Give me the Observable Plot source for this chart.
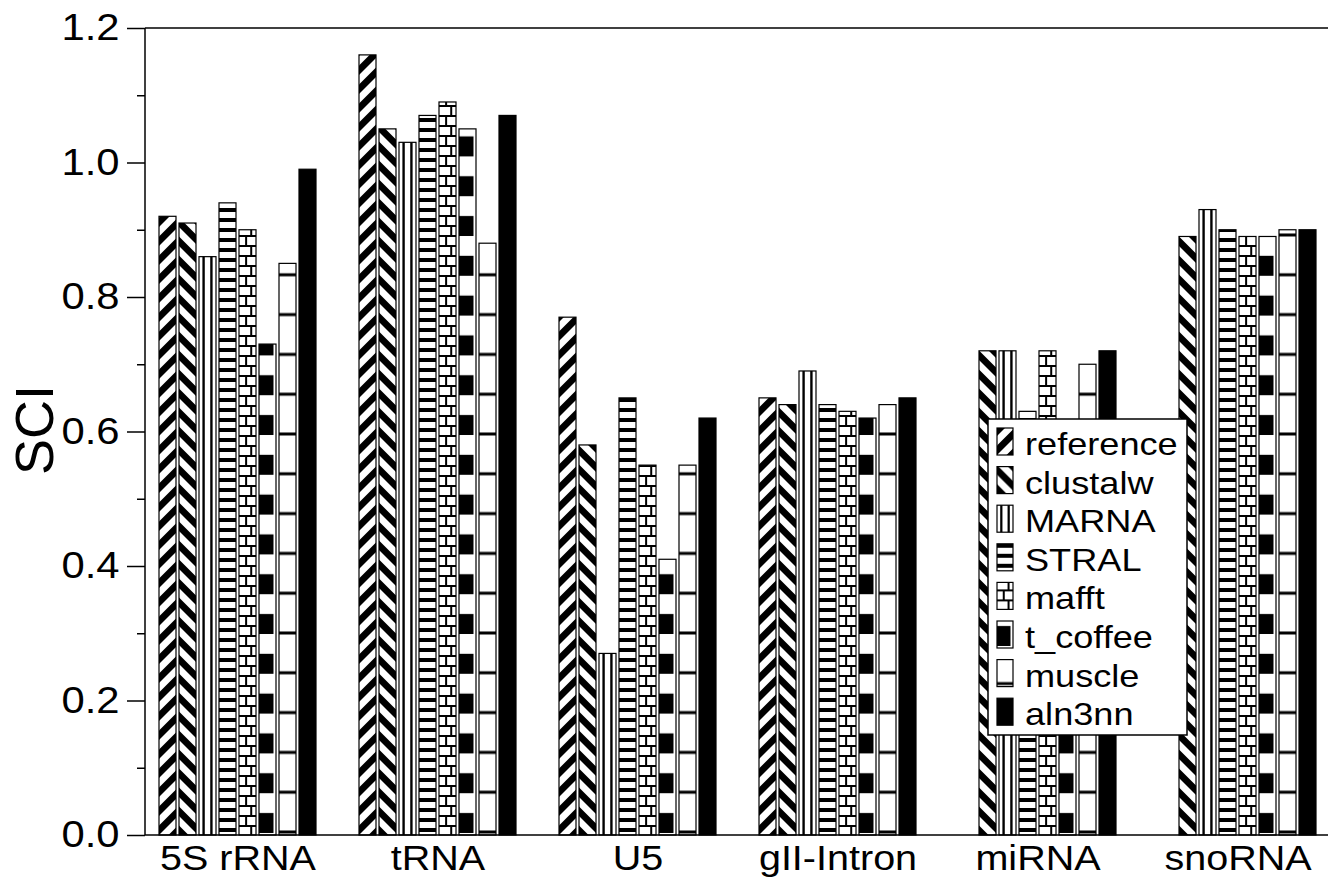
<!DOCTYPE html>
<html>
<head>
<meta charset="utf-8">
<script src="https://cdn.jsdelivr.net/npm/d3@7"></script>
<script src="https://cdn.jsdelivr.net/npm/@observablehq/plot@0.6"></script>
<style>
html, body { margin: 0; padding: 0; background: #fff; overflow: hidden; }
#chart { position: relative; width: 1328px; height: 878px; }
svg text { font-family: "Liberation Sans", Arial, Helvetica, sans-serif; }
</style>
</head>
<body>
<div id="chart"></div>
<script>
// ---- data ----
const categories = ["5S rRNA", "tRNA", "U5", "gII-Intron", "miRNA", "snoRNA"];
const methods = ["reference", "clustalw", "MARNA", "STRAL", "mafft", "t_coffee", "muscle", "aln3nn"];
const reference = [0.92, 1.16, 0.77, 0.65, null, null];
const clustalw  = [0.91, 1.05, 0.58, 0.64, 0.72, 0.89];
const marna     = [0.86, 1.03, 0.27, 0.69, 0.72, 0.93];
const stral     = [0.94, 1.07, 0.65, 0.64, 0.63, 0.90];
const mafft     = [0.90, 1.09, 0.55, 0.63, 0.72, 0.89];
const tcoffee   = [0.73, 1.05, 0.41, 0.62, 0.60, 0.89];
const muscle    = [0.85, 0.88, 0.55, 0.64, 0.70, 0.90];
const aln3nn    = [0.99, 1.07, 0.62, 0.65, 0.72, 0.90];
const yTicks = [0, 0.2, 0.4, 0.6, 0.8, 1.0, 1.2];
const yMinorTicks = [0.1, 0.3, 0.5, 0.7, 0.9, 1.1];
const yLabel = "SCI";

const series = [reference, clustalw, marna, stral, mafft, tcoffee, muscle, aln3nn];
const rows = categories.flatMap((c, i) =>
  methods.map((m, j) => ({category: c, method: m, sci: series[j][i]}))
);
const patUrls = methods.map((m, j) => `url(#pat${j})`);

const FONT = "Liberation Sans, Arial, Helvetica, sans-serif";
const STRETCH = 1.13;

const plot = Plot.plot({
  width: 1328,
  height: 878,
  marginLeft: 145,
  marginRight: -8,
  marginTop: 28,
  marginBottom: 43,
  style: {fontFamily: FONT, background: "white", color: "black"},
  fx: {domain: categories, paddingInner: 0.0746, paddingOuter: 0, align: 0, label: null},
  x: {domain: methods, paddingInner: 0.15, paddingOuter: 0.638, axis: null},
  y: {domain: [0, 1.2]},
  color: {domain: methods, range: patUrls},
  marks: [
    Plot.barY(rows, {fx: "category", x: "method", y: "sci", fill: "method", stroke: "black", strokeWidth: 1.2}),
    Plot.axisY({ticks: yTicks, tickSize: 18, tickPadding: 8, tickFormat: d3.format(".1f"), fontSize: 37, label: null, strokeWidth: 1.5}),
    Plot.axisY({ticks: yMinorTicks, tickSize: 8, tickFormat: () => "", label: null, strokeWidth: 1.5}),
    Plot.axisFx({anchor: "bottom", tickSize: 0, tickPadding: 10, fontSize: 35, label: null})
  ]
});

document.getElementById("chart").appendChild(plot);

// ---- styling: patterns, frame lines, legend ----
const svg = d3.select(plot);
const yS = plot.scale("y");
const fxS = plot.scale("fx");
const yBase = yS.apply(0);
const yTop = yS.apply(1.2);
const xLeft = fxS.apply(categories[0]);
const defs = svg.insert("defs", ":first-child");

function stretch(t, s) {
  const x = +(t.getAttribute("x") || 0);
  const tr = t.getAttribute("transform") || "";
  t.setAttribute("x", 0);
  t.setAttribute("transform", `${tr} translate(${x},0) scale(${s},1)`);
}
svg.selectAll("text").each(function() { stretch(this, STRETCH); });

let patCount = 0;
function makePattern(j, x0, yb, w) {
  const id = `bp${patCount++}`;
  const p = defs.append("pattern").attr("id", id)
    .attr("patternUnits", "userSpaceOnUse").attr("x", x0).attr("y", yb);
  const rect = (x, y, rw, rh, f) => p.append("rect").attr("x", x).attr("y", y)
    .attr("width", rw).attr("height", rh).attr("fill", f);
  if (j === 0 || j === 1) {
    const P = 19;
    p.attr("width", P).attr("height", P);
    rect(0, 0, P, P, "white");
    if (j === 0) {
      p.append("polygon").attr("points", `${P/2},0 ${P},0 0,${P} 0,${P/2}`).attr("fill", "black");
      p.append("polygon").attr("points", `${P},${P/2} ${P},${P} ${P/2},${P}`).attr("fill", "black");
    } else {
      p.append("polygon").attr("points", `0,0 ${P/2},0 ${P},${P/2} ${P},${P}`).attr("fill", "black");
      p.append("polygon").attr("points", `0,${P/2} 0,${P} ${P/2},${P}`).attr("fill", "black");
    }
  } else if (j === 2) {
    p.attr("width", w).attr("height", 10);
    rect(0, 0, w, 10, "white");
    rect(w * 0.2, 0, w * 0.14, 10, "black");
    rect(w * 0.66, 0, w * 0.14, 10, "black");
  } else if (j === 3) {
    p.attr("width", w).attr("height", 10);
    rect(0, 0, w, 10, "white");
    rect(0, 3, w, 4, "black");
  } else if (j === 4) {
    p.attr("width", w).attr("height", 20);
    rect(0, 0, w, 20, "white");
    rect(0, 0, w, 2, "black");
    rect(0, 10, w, 2, "black");
    rect(w * 0.36, 2, 2, 8, "black");
    rect(w * 0.66, 12, 2, 8, "black");
  } else if (j === 5) {
    const P = 39.8;
    p.attr("width", w).attr("height", P);
    rect(0, 0, w, P, "white");
    rect(0, P - 22, w - 2.5, 20, "black");
  } else if (j === 6) {
    const P = 39.8;
    p.attr("width", w).attr("height", P);
    rect(0, 0, w, P, "white");
    rect(0, P - 4.5, w, 3, "black");
  } else {
    p.attr("width", w).attr("height", 10);
    rect(0, 0, w, 10, "black");
  }
  return `url(#${id})`;
}

svg.selectAll('g[aria-label="bar"] rect').each(function() {
  const f = this.getAttribute("fill") || "";
  const m = f.match(/pat(\d+)/);
  if (!m) return;
  const j = +m[1];
  const x0 = +this.getAttribute("x");
  const w = +this.getAttribute("width");
  if (j === 7) { this.setAttribute("fill", "black"); return; }
  this.setAttribute("fill", makePattern(j, x0, yBase, w));
});

// frame lines
const frame = svg.append("g").attr("stroke", "black").attr("stroke-width", 1.5);
frame.append("line").attr("x1", xLeft).attr("x2", 1328).attr("y1", yTop).attr("y2", yTop);
frame.append("line").attr("x1", xLeft).attr("x2", 1328).attr("y1", yBase).attr("y2", yBase);
frame.append("line").attr("x1", xLeft).attr("x2", xLeft).attr("y1", yTop).attr("y2", yBase);

// y label
svg.append("text")
  .attr("transform", "translate(53,430) rotate(-90)")
  .attr("text-anchor", "middle")
  .attr("font-size", 54)
  .attr("font-family", FONT)
  .attr("fill", "black")
  .text(yLabel);

// legend
const lg = svg.append("g").attr("text-anchor", "start");
lg.append("rect").attr("x", 988).attr("y", 419).attr("width", 199).attr("height", 316)
  .attr("fill", "white").attr("stroke", "black").attr("stroke-width", 1.5);
methods.forEach((m, j) => {
  const yb = 455 + j * 38.6;
  const w = 16;
  lg.append("rect").attr("x", 997).attr("y", yb - 27).attr("width", w).attr("height", 27)
    .attr("fill", j === 7 ? "black" : makePattern(j, 997, yb, w))
    .attr("stroke", "black").attr("stroke-width", 1.2);
  lg.append("text")
    .attr("transform", `translate(1025,${yb}) scale(${STRETCH},1)`)
    .attr("text-anchor", "start")
    .attr("font-size", 32)
    .attr("font-family", FONT)
    .attr("fill", "black")
    .text(m);
});
</script>
</body>
</html>
